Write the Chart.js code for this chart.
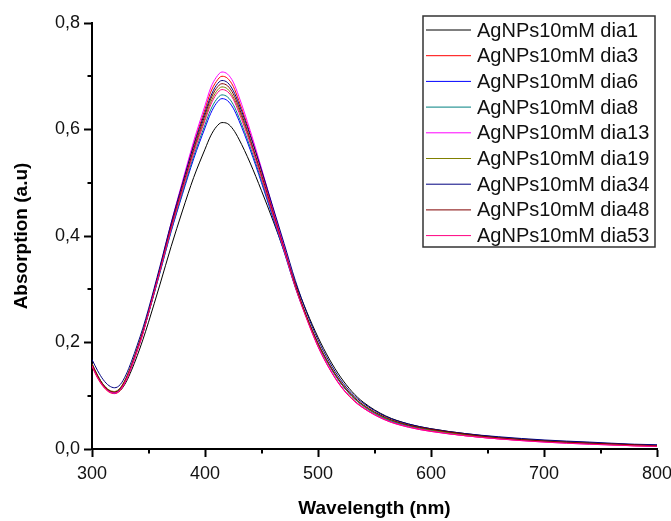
<!DOCTYPE html>
<html>
<head>
<meta charset="utf-8">
<title>AgNPs absorption spectra</title>
<script src="https://cdn.jsdelivr.net/npm/chart.js@4.4.1/dist/chart.umd.min.js"></script>
<style>
  html, body { margin: 0; padding: 0; background: #fff; }
  canvas { display: block; }
</style>
</head>
<body>
<canvas id="spectra" width="671" height="521"></canvas>
<script>
  // Wavelength grid (nm) shared by every spectrum
  const wavelengths = [300, 305, 310, 315, 320, 325, 330, 335, 340, 345, 350, 360, 370, 380, 390, 400, 405, 410, 415, 420, 425, 430, 440, 450, 460, 470, 480, 490, 500, 510, 520, 530, 540, 560, 580, 600, 630, 660, 700, 740, 780, 800];

  // Absorption (a.u.) per sample day
  const dia1  = [.160, .138, .121, .110, .106, .110, .125, .148, .175, .205, .238, .308, .380, .447, .510, .563, .588, .605, .613, .611, .600, .582, .537, .485, .430, .372, .312, .258, .210, .169, .135, .108, .088, .062, .047, .038, .029, .022, .016, .012, .008, .007];
  const dia3  = [.155, .133, .117, .107, .104, .110, .128, .154, .184, .216, .257, .337, .421, .498, .573, .638, .670, .690, .700, .696, .681, .654, .592, .522, .450, .379, .309, .246, .193, .152, .119, .095, .078, .055, .042, .034, .025, .019, .014, .010, .006, .005];
  const dia6  = [.158, .136, .119, .109, .105, .112, .130, .156, .186, .218, .254, .330, .408, .478, .545, .603, .630, .649, .658, .654, .640, .617, .562, .500, .435, .370, .303, .246, .197, .157, .124, .099, .081, .057, .044, .036, .027, .021, .015, .011, .007, .006];
  const dia8  = [.157, .135, .119, .109, .106, .113, .131, .157, .187, .219, .255, .331, .410, .481, .550, .609, .637, .656, .665, .661, .647, .623, .567, .504, .438, .372, .304, .247, .197, .157, .124, .099, .081, .057, .044, .036, .027, .021, .015, .011, .007, .006];
  const dia13 = [.157, .135, .118, .108, .105, .111, .129, .155, .185, .217, .258, .339, .424, .502, .578, .645, .678, .698, .708, .704, .689, .662, .598, .527, .453, .381, .308, .246, .193, .152, .119, .094, .077, .054, .041, .033, .025, .019, .013, .009, .006, .005];
  const dia19 = [.160, .138, .121, .111, .108, .115, .133, .158, .188, .220, .256, .334, .415, .488, .560, .621, .651, .671, .680, .676, .661, .637, .578, .512, .443, .375, .306, .248, .198, .158, .125, .100, .082, .058, .045, .036, .027, .021, .015, .011, .007, .006];
  const dia34 = [.168, .147, .130, .119, .115, .121, .139, .165, .195, .227, .263, .342, .424, .498, .570, .632, .662, .683, .692, .688, .673, .648, .589, .524, .455, .386, .316, .256, .205, .164, .130, .104, .086, .061, .047, .038, .029, .023, .017, .013, .009, .008];
  const dia48 = [.159, .137, .120, .110, .107, .114, .132, .158, .188, .220, .256, .335, .417, .491, .564, .627, .657, .677, .686, .682, .667, .642, .582, .515, .445, .376, .307, .249, .199, .159, .126, .101, .083, .059, .045, .037, .028, .021, .015, .011, .008, .006];
  const dia53 = [.156, .134, .118, .108, .105, .111, .129, .155, .185, .217, .255, .333, .413, .486, .556, .617, .646, .666, .675, .671, .657, .632, .574, .509, .441, .373, .303, .244, .192, .151, .118, .094, .077, .054, .041, .033, .025, .019, .013, .009, .006, .005];

  const seriesNames = ['AgNPs10mM dia1', 'AgNPs10mM dia3', 'AgNPs10mM dia6', 'AgNPs10mM dia8', 'AgNPs10mM dia13',
                       'AgNPs10mM dia19', 'AgNPs10mM dia34', 'AgNPs10mM dia48', 'AgNPs10mM dia53'];
  const seriesValues = [dia1, dia3, dia6, dia8, dia13, dia19, dia34, dia48, dia53];
  const seriesColors = ['#000000', '#FF0000', '#0000FF', '#008080', '#FF00FF', '#808000', '#000080', '#800000', '#FF0080'];

  // Axis ticks
  const xTicks = [300, 400, 500, 600, 700, 800];
  const xMinorTicks = [350, 450, 550, 650, 750];
  const yTicks = [0, 0.2, 0.4, 0.6, 0.8];
  const yMinorTicks = [0.1, 0.3, 0.5, 0.7];

  const FONT = "'Liberation Sans', Arial, sans-serif";

  // Build datasets; later days are drawn on top
  const datasets = seriesValues.map((vals, i) => ({
    label: seriesNames[i],
    data: wavelengths.map((w, j) => ({ x: w, y: vals[j] })),
    borderColor: seriesColors[i],
    backgroundColor: seriesColors[i],
    borderWidth: 1,
    pointRadius: 0,
    cubicInterpolationMode: 'monotone',
    fill: false,
    order: -i
  }));

  // Short minor ticks between the labelled ones
  const minorTicksPlugin = {
    id: 'minorTicks',
    afterDraw(chart) {
      const ctx = chart.ctx;
      const area = chart.chartArea;
      const xs = chart.scales.x, ys = chart.scales.y;
      ctx.save();
      ctx.strokeStyle = '#000';
      ctx.lineWidth = 2;
      ctx.beginPath();
      xMinorTicks.forEach(v => {
        const px = Math.round(xs.getPixelForValue(v));
        ctx.moveTo(px, area.bottom);
        ctx.lineTo(px, area.bottom + 4.5);
      });
      yMinorTicks.forEach(v => {
        const py = Math.round(ys.getPixelForValue(v));
        ctx.moveTo(area.left, py);
        ctx.lineTo(area.left - 4.5, py);
      });
      ctx.stroke();
      ctx.restore();
    }
  };

  // Boxed legend in the upper right corner
  const boxLegendPlugin = {
    id: 'boxLegend',
    afterDraw(chart) {
      const ctx = chart.ctx;
      const left = 423, top = 16, right = 655, bottom = 247;
      const rowStart = 30, rowStep = 25.7;
      ctx.save();
      ctx.fillStyle = '#fff';
      ctx.fillRect(left, top, right - left, bottom - top);
      ctx.strokeStyle = '#333';
      ctx.lineWidth = 1.5;
      ctx.strokeRect(left, top, right - left, bottom - top);
      ctx.font = '20px ' + FONT;
      ctx.textBaseline = 'middle';
      ctx.textAlign = 'left';
      chart.data.datasets.forEach((ds, i) => {
        const y = rowStart + i * rowStep;
        ctx.strokeStyle = ds.borderColor;
        ctx.lineWidth = 1;
        ctx.beginPath();
        ctx.moveTo(426, y);
        ctx.lineTo(471, y);
        ctx.stroke();
        ctx.fillStyle = '#111';
        ctx.fillText(ds.label, 477, y + 1);
      });
      ctx.restore();
    }
  };

  new Chart(document.getElementById('spectra'), {
    type: 'line',
    data: { datasets: datasets },
    options: {
      responsive: false,
      animation: false,
      layout: { padding: { top: 23, right: 14, left: 0, bottom: 0 } },
      plugins: {
        legend: { display: false },
        tooltip: { enabled: false }
      },
      scales: {
        x: {
          type: 'linear',
          min: 300,
          max: 800,
          afterFit(scale) {
            scale.height = 72;
            scale.paddingLeft = 0;
            scale.paddingRight = 0;
          },
          afterBuildTicks(scale) { scale.ticks = xTicks.map(v => ({ value: v })); },
          ticks: {
            color: '#111',
            font: { family: FONT, size: 18 },
            padding: 6,
            maxRotation: 0,
            callback: v => String(v)
          },
          grid: { drawOnChartArea: false, drawTicks: true, tickLength: 8, tickWidth: 2, tickColor: '#000' },
          border: { display: true, color: '#000', width: 2 },
          title: {
            display: true,
            text: 'Wavelength (nm)',
            color: '#000',
            font: { family: FONT, size: 19, weight: 'bold' },
            padding: { top: 0, bottom: 1 }
          }
        },
        y: {
          type: 'linear',
          min: 0,
          max: 0.8,
          afterFit(scale) {
            scale.width = 92;
            scale.paddingTop = 0;
            scale.paddingBottom = 0;
          },
          afterBuildTicks(scale) { scale.ticks = yTicks.map(v => ({ value: v })); },
          ticks: {
            color: '#111',
            font: { family: FONT, size: 18 },
            padding: 4,
            callback: v => v.toFixed(1).replace('.', ',')
          },
          grid: { drawOnChartArea: false, drawTicks: true, tickLength: 8, tickWidth: 2, tickColor: '#000' },
          border: { display: true, color: '#000', width: 2 },
          title: {
            display: true,
            text: 'Absorption (a.u)',
            color: '#000',
            font: { family: FONT, size: 19, weight: 'bold' },
            padding: { top: 10, bottom: 0 }
          }
        }
      }
    },
    plugins: [minorTicksPlugin, boxLegendPlugin]
  });
</script>
</body>
</html>
